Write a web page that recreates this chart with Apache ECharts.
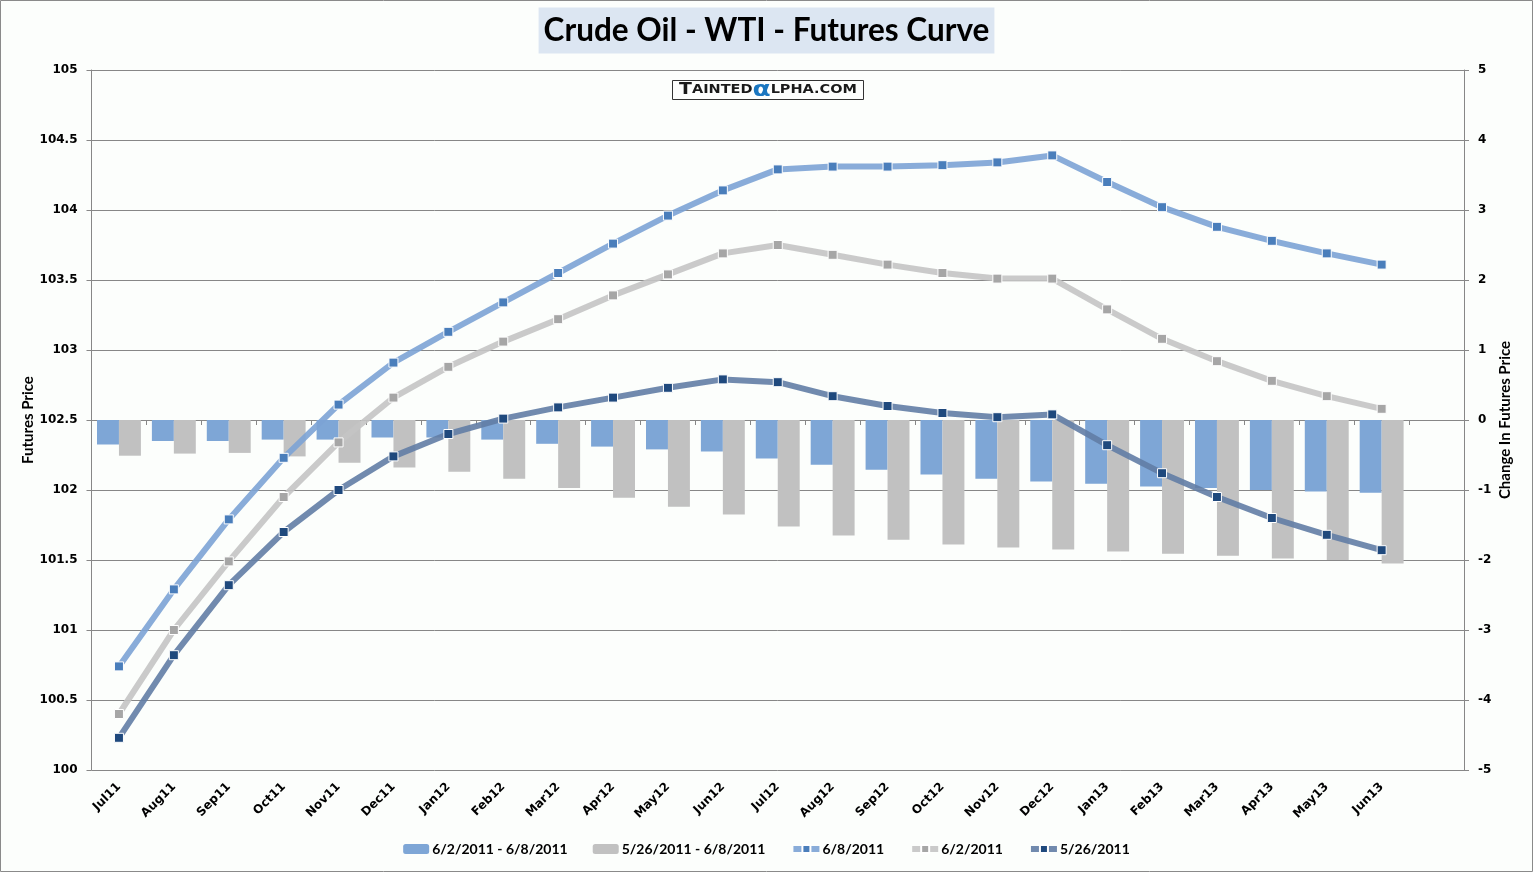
<!DOCTYPE html>
<html>
<head>
<meta charset="utf-8">
<script src="https://cdn.jsdelivr.net/npm/echarts@6/dist/echarts.min.js"></script>
<style>
html,body{margin:0;padding:0;background:#fcfefc;}
#chart{width:1533px;height:872px;}
</style>
</head>
<body>
<div id="chart"></div>
<script>
const categories = ['Jul11','Aug11','Sep11','Oct11','Nov11','Dec11','Jan12','Feb12','Mar12','Apr12','May12','Jun12',
  'Jul12','Aug12','Sep12','Oct12','Nov12','Dec12','Jan13','Feb13','Mar13','Apr13','May13','Jun13',''];

const change_0602_0608 = [-0.35,-0.30,-0.30,-0.28,-0.28,-0.25,-0.25,-0.28,-0.34,-0.38,-0.42,-0.45,
  -0.55,-0.64,-0.71,-0.78,-0.84,-0.88,-0.91,-0.95,-0.97,-1.00,-1.02,-1.04];
const change_0526_0608 = [-0.51,-0.48,-0.47,-0.52,-0.61,-0.68,-0.74,-0.84,-0.97,-1.11,-1.24,-1.35,
  -1.52,-1.65,-1.71,-1.78,-1.82,-1.85,-1.88,-1.91,-1.94,-1.98,-2.00,-2.05];

const price_0608 = [100.74,101.29,101.79,102.23,102.61,102.91,103.13,103.34,103.55,103.76,103.96,104.14,
  104.29,104.31,104.31,104.32,104.34,104.39,104.20,104.02,103.88,103.78,103.69,103.61];
const price_0602 = [100.40,101.00,101.49,101.95,102.34,102.66,102.88,103.06,103.22,103.39,103.54,103.69,
  103.75,103.68,103.61,103.55,103.51,103.51,103.29,103.08,102.92,102.78,102.67,102.58];
const price_0526 = [100.23,100.82,101.32,101.70,102.00,102.24,102.40,102.51,102.59,102.66,102.73,102.79,
  102.77,102.67,102.60,102.55,102.52,102.54,102.32,102.12,101.95,101.80,101.68,101.57];

const chart = echarts.init(document.getElementById('chart'));
const axisGray = '#878787';
const lblFont = {fontFamily:'DejaVu Sans', fontWeight:'bold', fontSize:12, color:'#000'};

function lineSeries(name, data, lineColor, markColor){
  return {
    name, type:'line', yAxisIndex:0, data, z:3,
    symbol:'rect', symbolSize:9,
    lineStyle:{color:lineColor, width:6, opacity:0.9},
    itemStyle:{color:markColor, borderColor:'#ffffff', borderWidth:1},
    emphasis:{disabled:true}
  };
}

chart.setOption({
  backgroundColor:'#fcfefc',
  animation:false,
  title:[{
    text:'Crude Oil - WTI - Futures Curve',
    left:'center', top:8,
    backgroundColor:'#dce6f2',
    padding:[7,5,7,5],
    textStyle:{fontFamily:'Lato', fontWeight:'bold', fontSize:31.5, lineHeight:31, color:'#000'}
  }],
  graphic:[{
    type:'rect', shape:{x:0.5,y:0.5,width:1532,height:871},
    style:{fill:null, stroke:'#8a8a8a', lineWidth:1}, silent:true
  },{
    type:'rect', shape:{x:672.5,y:80.5,width:191,height:19},
    style:{fill:'#fdfefd', stroke:'#333', lineWidth:1}, silent:true, z:10
  },{
    type:'text', x:768, y:90.5, scaleX:1.26, silent:true, z:11,
    style:{
      text:'{t|T}{s|AINTED}{a|α}{s|LPHA.COM}',
      align:'center', verticalAlign:'middle',
      rich:{
        t:{fontFamily:'DejaVu Sans', fontSize:15, fill:'#1a1a1a', fontWeight:'bold'},
        s:{fontFamily:'DejaVu Sans', fontSize:11.5, fill:'#1a1a1a', fontWeight:'bold'},
        a:{fontFamily:'DejaVu Sans', fontSize:21, fill:'#1a76c0', fontWeight:'bold', lineHeight:18}
      }
    }
  }],
  legend:{
    bottom:11, left:'center',
    itemWidth:26, itemHeight:10, itemGap:25,
    textStyle:{fontFamily:'Lato', fontWeight:'bold', fontSize:14, color:'#000', padding:[0,0,0,-2]},
    data:[
      {name:'6/2/2011 - 6/8/2011'},
      {name:'5/26/2011 - 6/8/2011'},
      {name:'6/8/2011', lineStyle:{width:6}},
      {name:'6/2/2011', lineStyle:{width:6}},
      {name:'5/26/2011', lineStyle:{width:6}}
    ]
  },
  grid:{left:91.5, right:69, top:70, bottom:102, containLabel:false},
  xAxis:{
    type:'category', data:categories, boundaryGap:true,
    axisLine:{lineStyle:{color:axisGray}},
    axisTick:{show:true, interval:0, length:5, lineStyle:{color:axisGray}},
    axisLabel:Object.assign({interval:0, rotate:45, margin:15}, lblFont),
    splitLine:{show:false}
  },
  yAxis:[{
    type:'value', min:100, max:105, interval:0.5, position:'left',
    name:'Futures Price', nameLocation:'middle', nameRotate:90, nameGap:56,
    nameMoveOverlap:false,
    nameTextStyle:{fontFamily:'Lato', fontWeight:'bold', fontSize:15, color:'#000'},
    axisLine:{show:true, lineStyle:{color:axisGray}},
    axisTick:{show:true, length:5, lineStyle:{color:axisGray}},
    axisLabel:Object.assign({margin:14}, lblFont),
    splitLine:{show:true, lineStyle:{color:axisGray, width:1}}
  },{
    type:'value', min:-5, max:5, interval:1, position:'right',
    name:'Change In Futures Price', nameLocation:'middle', nameRotate:90, nameGap:34,
    nameMoveOverlap:false,
    nameTextStyle:{fontFamily:'Lato', fontWeight:'bold', fontSize:15, color:'#000'},
    axisLine:{show:true, lineStyle:{color:axisGray}},
    axisTick:{show:true, length:5, lineStyle:{color:axisGray}},
    axisLabel:Object.assign({margin:14}, lblFont),
    splitLine:{show:false}
  }],
  series:[
    {name:'6/2/2011 - 6/8/2011', type:'bar', yAxisIndex:1, data:change_0602_0608,
     barGap:'0%', barCategoryGap:'20%', itemStyle:{color:'#7ea6d6'}, z:2},
    {name:'5/26/2011 - 6/8/2011', type:'bar', yAxisIndex:1, data:change_0526_0608,
     barGap:'0%', barCategoryGap:'20%', itemStyle:{color:'#c1c1c1'}, z:2},
    lineSeries('6/8/2011', price_0608, '#7ca3d5', '#4a7ebb'),
    lineSeries('6/2/2011', price_0602, '#c4c4c4', '#a6a6a6'),
    lineSeries('5/26/2011', price_0526, '#627da5', '#1f497d')
  ]
});
</script>
</body>
</html>
